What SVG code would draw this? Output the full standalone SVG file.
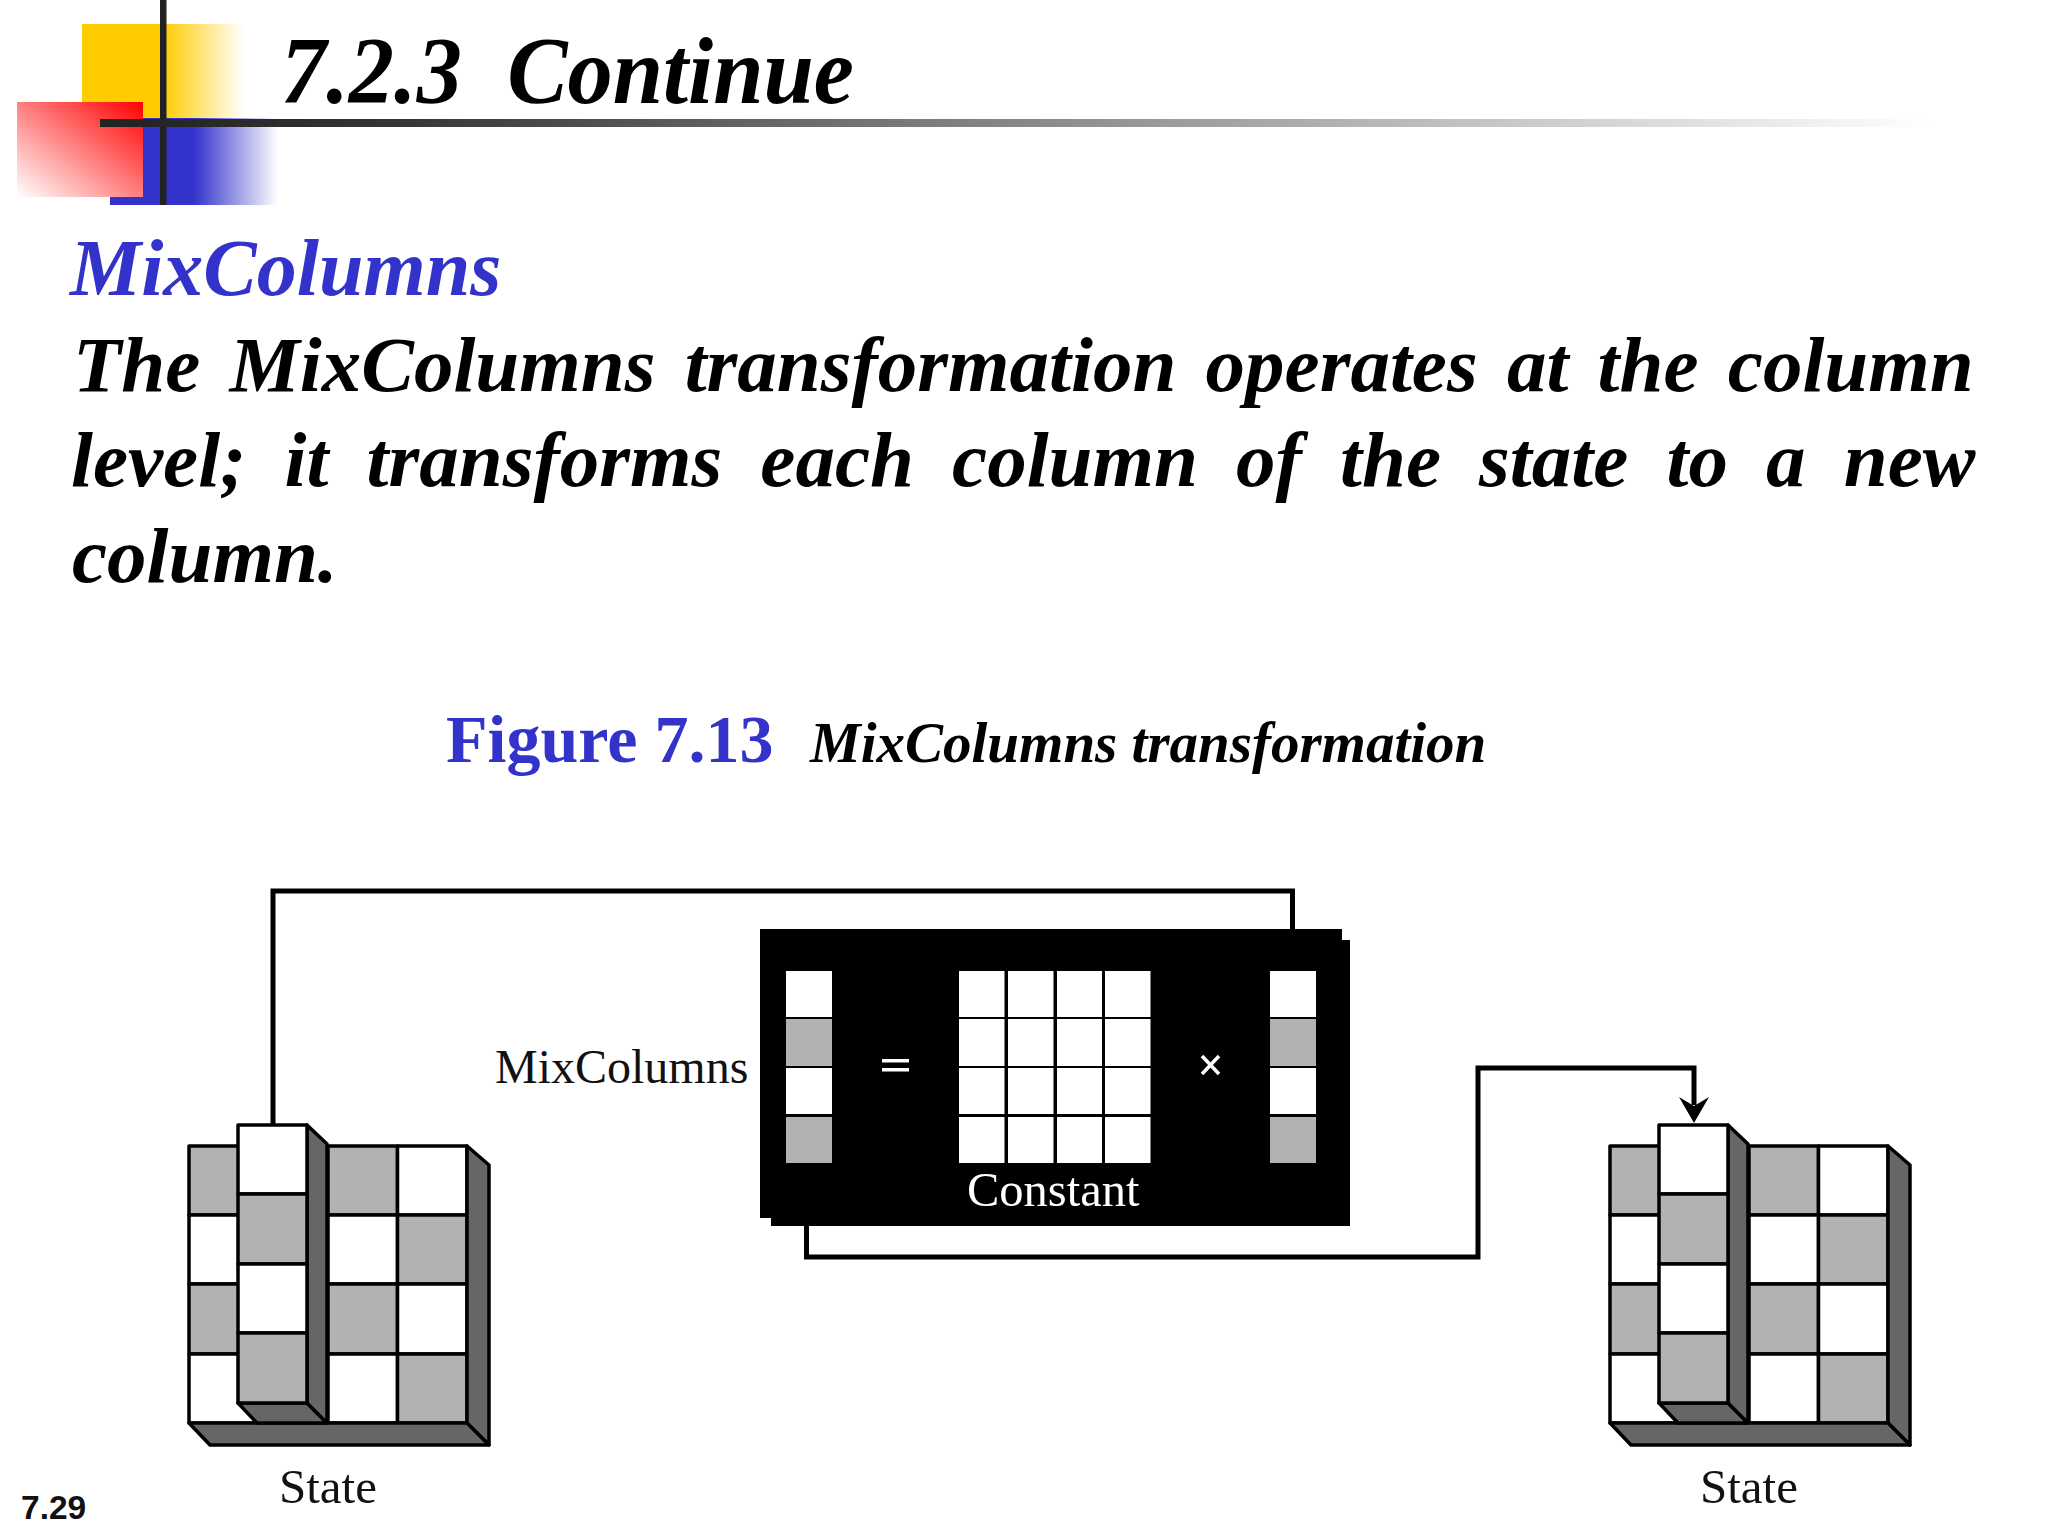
<svg xmlns="http://www.w3.org/2000/svg" xmlns:xlink="http://www.w3.org/1999/xlink" width="2048" height="1536" viewBox="0 0 2048 1536">
<style>
.bi{font-family:"Liberation Serif","Times New Roman",serif;font-weight:bold;font-style:italic}
.r{font-family:"Liberation Serif","Times New Roman",serif;font-size:48px;fill:#111}
.c{stroke:#000;stroke-width:3.5;stroke-linejoin:round}
.w{fill:#fff}.g{fill:#b2b2b2}.d{fill:#666}
.conn{fill:none;stroke:#000;stroke-width:5}
</style>
<defs>
<linearGradient id="yg" x1="0" x2="1" y1="0" y2="0"><stop offset="0" stop-color="#ffcc00"/><stop offset="0.5" stop-color="#ffcc00"/><stop offset="1" stop-color="#ffffff"/></linearGradient>
<linearGradient id="bg" x1="0" x2="1" y1="0" y2="0"><stop offset="0" stop-color="#3333cc"/><stop offset="0.5" stop-color="#3333cc"/><stop offset="1" stop-color="#ffffff"/></linearGradient>
<linearGradient id="rg" x1="1" x2="0" y1="0" y2="1"><stop offset="0" stop-color="#ff0000"/><stop offset="1" stop-color="#ffffff"/></linearGradient>
<linearGradient id="hg" gradientUnits="userSpaceOnUse" x1="100" x2="1930" y1="0" y2="0"><stop offset="0" stop-color="#222"/><stop offset="0.15" stop-color="#333"/><stop offset="1" stop-color="#fff"/></linearGradient>
<g id="state">
<rect class="c g" x="189" y="1146" width="69" height="69"/>
<rect class="c w" x="189" y="1215" width="69" height="69"/>
<rect class="c g" x="189" y="1284" width="69" height="70"/>
<rect class="c w" x="189" y="1354" width="139" height="69"/>
<rect class="c g" x="328" y="1146" width="69.500" height="69"/>
<rect class="c w" x="397.500" y="1146" width="69.500" height="69"/>
<rect class="c w" x="328" y="1215" width="69.500" height="69"/>
<rect class="c g" x="397.500" y="1215" width="69.500" height="69"/>
<rect class="c g" x="328" y="1284" width="69.500" height="70"/>
<rect class="c w" x="397.500" y="1284" width="69.500" height="70"/>
<rect class="c w" x="328" y="1354" width="69.500" height="69"/>
<rect class="c g" x="397.500" y="1354" width="69.500" height="69"/>
<polygon class="c d" points="467,1146 489,1165 489,1445 467,1423"/>
<polygon class="c d" points="189,1423 467,1423 489,1445 210,1445"/>
<polygon class="c d" points="238,1403 307,1403 327,1423 257,1423"/>
<polygon class="c d" points="307,1125 327,1144 327,1423 307,1403"/>
<rect class="c w" x="238" y="1125" width="69" height="69"/>
<rect class="c g" x="238" y="1194" width="69" height="70"/>
<rect class="c w" x="238" y="1264" width="69" height="69"/>
<rect class="c g" x="238" y="1333" width="69" height="70"/>
</g>
</defs>
<g id="logo">
<rect x="82" y="24" width="162" height="94" fill="url(#yg)"/>
<rect x="110" y="118" width="168" height="87" fill="url(#bg)"/>
<rect x="17" y="102" width="126" height="95" fill="url(#rg)"/>
<rect x="160" y="0" width="6.500" height="205" fill="#222"/>
<rect x="100" y="119" width="1830" height="8" fill="url(#hg)"/>
</g>
<g id="heading">
<text class="bi" x="281" y="103" font-size="96" textLength="573" lengthAdjust="spacingAndGlyphs" fill="#000" xml:space="preserve">7.2.3  Continue</text>
<text class="bi" x="70" y="295" font-size="80" fill="#3333cc">MixColumns</text>
<text class="bi" x="73" y="391" font-size="79" fill="#000" word-spacing="9.500">The MixColumns transformation operates at the column</text>
<text class="bi" x="71" y="486" font-size="79" fill="#000" word-spacing="18.400">level; it transforms each column of the state to a new</text>
<text class="bi" x="72" y="582" font-size="79" fill="#000">column.</text>
</g>
<g id="caption">
<text x="446" y="762" font-size="68" font-weight="bold" font-family="Liberation Serif, serif" fill="#3333cc">Figure 7.13</text>
<text class="bi" x="810" y="762" font-size="57" fill="#000">MixColumns transformation</text>
</g>
<g id="connectors">
<path class="conn" d="M273 1124V891H1292.500V929"/>
<path class="conn" d="M806.500 1226V1257H1478V1068H1694V1105"/>
<polygon points="1694,1123 1679,1097 1694,1106 1709,1097" fill="#000"/>
</g>
<g id="state-left">
<use href="#state"/>
<text class="r" x="279" y="1503" style="font-size:49px">State</text>
</g>
<g id="state-right">
<use href="#state" x="1421"/>
<text class="r" x="1700" y="1503" style="font-size:49px">State</text>
</g>
<g id="mixcolumns">
<rect x="760" y="929" width="582" height="289" fill="#000"/>
<rect x="771" y="940" width="579" height="286" fill="#000"/>
<g fill="#fff">
<rect x="786" y="971" width="46" height="46"/><rect x="786" y="1068" width="46" height="46"/>
<rect x="1270" y="971" width="46" height="46"/><rect x="1270" y="1068" width="46" height="46"/>
</g>
<g fill="#b2b2b2">
<rect x="786" y="1019" width="46" height="47"/><rect x="786" y="1117" width="46" height="46"/>
<rect x="1270" y="1019" width="46" height="47"/><rect x="1270" y="1117" width="46" height="46"/>
</g>
<g fill="#fff">
<rect x="959" y="971" width="45.500" height="46"/><rect x="1008" y="971" width="45.500" height="46"/><rect x="1057" y="971" width="45" height="46"/><rect x="1105" y="971" width="45.500" height="46"/>
<rect x="959" y="1019" width="45.500" height="47"/><rect x="1008" y="1019" width="45.500" height="47"/><rect x="1057" y="1019" width="45" height="47"/><rect x="1105" y="1019" width="45.500" height="47"/>
<rect x="959" y="1068" width="45.500" height="46"/><rect x="1008" y="1068" width="45.500" height="46"/><rect x="1057" y="1068" width="45" height="46"/><rect x="1105" y="1068" width="45.500" height="46"/>
<rect x="959" y="1117" width="45.500" height="46"/><rect x="1008" y="1117" width="45.500" height="46"/><rect x="1057" y="1117" width="45" height="46"/><rect x="1105" y="1117" width="45.500" height="46"/>
<rect x="882" y="1059" width="27" height="3.500"/><rect x="882" y="1068" width="27" height="3.500"/>
</g>
<path d="M1202 1056L1219 1074M1219 1056L1202 1074" stroke="#fff" stroke-width="3.500" fill="none"/>
<text x="967" y="1206" font-family="Liberation Serif, serif" font-size="48.500" fill="#fff">Constant</text>
</g>
<text class="r" x="495" y="1083">MixColumns</text>
<text x="21" y="1519" font-family="Liberation Sans, Arial, sans-serif" font-size="33.500" font-weight="bold" fill="#111">7.29</text>
</svg>
